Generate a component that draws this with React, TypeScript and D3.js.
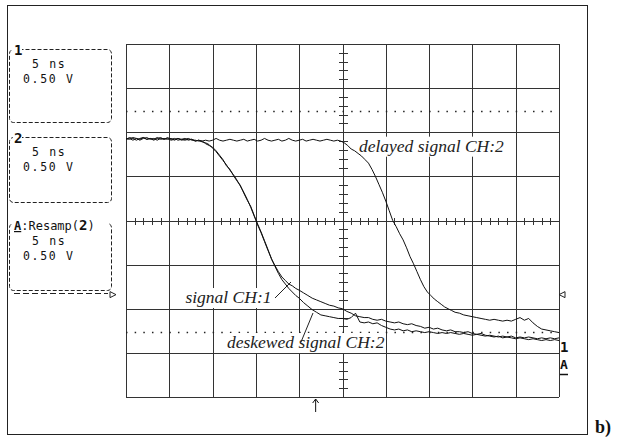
import React, { useLayoutEffect, useRef, useState } from 'react';
import * as d3 from 'd3';

// time in ns (5 ns/div), voltage in V (0.5 V/div)
const signalCh1: [number, number][] = [
  [0,0.93],[0.4,0.92],[0.8,0.94],[1.2,0.93],[1.6,0.91],[2.0,0.93],[2.4,0.94],[2.8,0.92],[3.2,0.93],[3.6,0.91],[4.0,0.93],[4.4,0.92],[4.8,0.94],[5.2,0.92],[5.6,0.93],[6.0,0.91],[6.4,0.92],[6.8,0.93],[7.2,0.91],[7.6,0.92],[8.0,0.90],[8.4,0.91],[8.8,0.89],[9.2,0.88],[9.6,0.86],[10.0,0.82],[10.4,0.78],[10.8,0.73],[11.2,0.68],[11.6,0.63],[12.0,0.57],[12.4,0.52],[12.8,0.46],[13.2,0.39],[13.6,0.32],[14.0,0.24],[14.4,0.15],[14.8,0.05],[15.2,-0.04],[15.6,-0.13],[16.0,-0.23],[16.4,-0.33],[16.8,-0.44],[17.2,-0.51],[17.6,-0.58],[18.0,-0.64],[18.4,-0.68],[18.8,-0.72],[19.2,-0.74],[19.6,-0.77],[20.0,-0.79],[20.5,-0.82],[21.0,-0.85],[21.5,-0.88],[22.0,-0.90],[22.5,-0.92],[23.0,-0.94],[23.5,-0.96],[24.0,-0.97],[24.5,-0.99],[25.0,-1.00],[25.5,-1.03],[26.0,-1.05],[26.5,-1.08],[27.0,-1.09],[27.5,-1.10],[28.0,-1.10],[28.5,-1.12],[29.0,-1.13],[29.5,-1.12],[30.0,-1.14],[30.5,-1.15],[31.0,-1.16],[31.5,-1.15],[32.0,-1.17],[32.5,-1.18],[33.0,-1.17],[33.5,-1.19],[34.0,-1.20],[34.5,-1.22],[35.0,-1.21],[35.5,-1.23],[36.0,-1.22],[36.5,-1.24],[37.0,-1.25],[37.5,-1.24],[38.0,-1.26],[38.5,-1.26],[39.0,-1.27],[39.5,-1.26],[40.0,-1.28],[40.5,-1.29],[41.0,-1.28],[41.5,-1.30],[42.0,-1.31],[42.5,-1.32],[43.0,-1.31],[43.5,-1.33],[44.0,-1.32],[44.5,-1.33],[45.0,-1.34],[45.5,-1.33],[46.0,-1.34],[46.5,-1.35],[47.0,-1.34],[47.5,-1.35],[48.0,-1.36],[48.5,-1.35],[49.0,-1.36],[49.5,-1.35],[50.0,-1.36]
];

const deskewedCh2: [number, number][] = [
  [0,0.92],[0.4,0.94],[0.8,0.93],[1.2,0.91],[1.6,0.93],[2.0,0.94],[2.4,0.92],[2.8,0.93],[3.2,0.91],[3.6,0.93],[4.0,0.94],[4.4,0.92],[4.8,0.93],[5.2,0.91],[5.6,0.92],[6.0,0.93],[6.4,0.91],[6.8,0.92],[7.2,0.93],[7.6,0.91],[8.0,0.91],[8.4,0.90],[8.8,0.90],[9.2,0.87],[9.6,0.85],[10.0,0.83],[10.4,0.79],[10.8,0.74],[11.2,0.69],[11.6,0.62],[12.0,0.58],[12.4,0.51],[12.8,0.45],[13.2,0.40],[13.6,0.31],[14.0,0.23],[14.4,0.16],[14.8,0.06],[15.2,-0.05],[15.6,-0.14],[16.0,-0.24],[16.4,-0.34],[16.8,-0.43],[17.2,-0.52],[17.6,-0.60],[18.0,-0.67],[18.4,-0.72],[18.8,-0.77],[19.2,-0.81],[19.6,-0.85],[20.0,-0.88],[20.5,-0.93],[21.0,-0.97],[21.5,-1.01],[22.0,-1.04],[22.5,-1.07],[23.0,-1.08],[23.5,-1.09],[24.0,-1.10],[24.5,-1.11],[25.0,-1.11],[25.5,-1.12],[26.0,-1.10],[26.5,-1.05],[27.0,-1.15],[27.5,-1.16],[28.0,-1.15],[28.5,-1.17],[29.0,-1.16],[29.5,-1.19],[30.0,-1.21],[30.5,-1.23],[31.0,-1.24],[31.5,-1.23],[32.0,-1.25],[32.5,-1.24],[33.0,-1.26],[33.5,-1.25],[34.0,-1.26],[34.5,-1.27],[35.0,-1.26],[35.5,-1.27],[36.0,-1.28],[36.5,-1.27],[37.0,-1.28],[37.5,-1.27],[38.0,-1.28],[38.5,-1.29],[39.0,-1.28],[39.5,-1.29],[40.0,-1.30],[40.5,-1.29],[41.0,-1.30],[41.5,-1.31],[42.0,-1.30],[42.5,-1.31],[43.0,-1.32],[43.5,-1.31],[44.0,-1.32],[44.5,-1.31],[45.0,-1.33],[45.5,-1.32],[46.0,-1.33],[46.5,-1.32],[47.0,-1.33],[47.5,-1.34],[48.0,-1.33],[48.5,-1.34],[49.0,-1.33],[49.5,-1.34],[50.0,-1.33]
];

const delayedCh2: [number, number][] = [
  [0,0.92],[0.4,0.93],[0.8,0.91],[1.2,0.93],[1.6,0.92],[2.0,0.94],[2.4,0.92],[2.8,0.93],[3.2,0.92],[3.6,0.94],[4.0,0.92],[4.4,0.93],[4.8,0.92],[5.2,0.93],[5.6,0.91],[6.0,0.93],[6.4,0.92],[6.8,0.91],[7.2,0.92],[7.6,0.92],[8.0,0.90],[8.4,0.91],[8.8,0.90],[9.2,0.91],[9.6,0.90],[10.0,0.91],[10.4,0.93],[10.8,0.91],[11.2,0.90],[11.6,0.91],[12.0,0.92],[12.4,0.91],[12.8,0.90],[13.2,0.91],[13.6,0.92],[14.0,0.90],[14.4,0.91],[14.8,0.92],[15.2,0.90],[15.6,0.91],[16.0,0.93],[16.4,0.91],[16.8,0.90],[17.2,0.91],[17.6,0.92],[18.0,0.90],[18.4,0.91],[18.8,0.93],[19.2,0.91],[19.6,0.90],[20.0,0.91],[20.4,0.92],[20.8,0.90],[21.2,0.91],[21.6,0.92],[22.0,0.91],[22.4,0.90],[22.8,0.91],[23.2,0.92],[23.6,0.91],[24.0,0.90],[24.4,0.91],[24.8,0.90],[25.2,0.88],[25.6,0.85],[26.0,0.81],[26.4,0.79],[26.8,0.76],[27.2,0.73],[27.6,0.69],[28.0,0.65],[28.4,0.58],[28.8,0.50],[29.2,0.41],[29.6,0.32],[30.0,0.22],[30.4,0.11],[30.8,0.00],[31.2,-0.07],[31.6,-0.15],[32.0,-0.22],[32.4,-0.31],[32.8,-0.41],[33.2,-0.49],[33.6,-0.58],[34.0,-0.67],[34.4,-0.75],[34.8,-0.81],[35.2,-0.85],[35.6,-0.89],[36.0,-0.92],[36.4,-0.95],[36.8,-0.98],[37.2,-1.00],[37.6,-1.02],[38.0,-1.04],[38.5,-1.05],[39.0,-1.07],[39.5,-1.08],[40.0,-1.09],[40.5,-1.10],[41.0,-1.11],[41.5,-1.12],[42.0,-1.13],[42.5,-1.12],[43.0,-1.13],[43.5,-1.14],[44.0,-1.13],[44.5,-1.14],[45.0,-1.12],[45.5,-1.10],[46.0,-1.13],[46.5,-1.11],[47.0,-1.16],[47.5,-1.20],[48.0,-1.23],[48.5,-1.24],[49.0,-1.25],[49.5,-1.26],[50.0,-1.27]
];

const cursorLevels = [1.24, -1.26];
const channelBoxes = [
  { head: '1', time: '5 ns', volts: '0.50 V' },
  { head: '2', time: '5 ns', volts: '0.50 V' },
  { head: 'A:Resamp(2)', time: '5 ns', volts: '0.50 V' },
];

const X0 = 126, X1 = 559, Y0 = 44, Y1 = 397;
const x = d3.scaleLinear().domain([0, 50]).range([X0, X1]);
const y = d3.scaleLinear().domain([-2, 2]).range([Y1, Y0]);
const line = d3.line<[number, number]>().x(d => x(d[0])).y(d => y(d[1]));

function Label({ tx, ty, text, anchor = 'start' }: { tx: number; ty: number; text: string; anchor?: string }) {
  const ref = useRef<SVGTextElement>(null);
  const [bb, setBb] = useState<{ x: number; y: number; w: number; h: number } | null>(null);
  useLayoutEffect(() => {
    if (ref.current) {
      const b = ref.current.getBBox();
      setBb({ x: b.x, y: b.y, w: b.width, h: b.height });
    }
  }, []);
  return (
    <g>
      {bb && <rect x={bb.x - 1} y={bb.y + 1} width={bb.w + 2} height={bb.h} fill="#fff" />}
      <text ref={ref} x={tx} y={ty} textAnchor={anchor as any} fontFamily="'Liberation Serif', 'Times New Roman', serif" fontStyle="italic" fontSize={17.5} fill="#222">{text}</text>
    </g>
  );
}

export default function App() {
  const grid = '#333';
  const mono = "'DejaVu Sans Mono', monospace";
  const boxTops = [49, 137, 223];
  const boxBottoms = [122, 202, 290];
  const arrowX = x(21.9);
  return (
    <svg width={621} height={439} style={{ position: 'absolute', left: 0, top: 0, background: '#fff' }}>
      <rect x={0} y={0} width={621} height={439} fill="#fff" />
      <rect x={7.5} y={5.5} width={580} height={429} fill="none" stroke="#222" strokeWidth={1} />
      {/* grid */}
      <g shapeRendering="crispEdges" stroke={grid} strokeWidth={1}>
        {d3.range(0, 50.001, 5).map(t => (
          <line key={'v' + t} x1={Math.round(x(t)) + 0.5} x2={Math.round(x(t)) + 0.5} y1={Y0} y2={Y1} />
        ))}
        {d3.range(-2, 2.001, 0.5).map(v => (
          <line key={'h' + v} x1={X0} x2={X1} y1={Math.round(y(v)) + 0.5} y2={Math.round(y(v)) + 0.5} />
        ))}
        {d3.range(0, 50.001, 1).map(t => (
          <line key={'mt' + t} x1={Math.round(x(t)) + 0.5} x2={Math.round(x(t)) + 0.5} y1={Math.round(y(0)) - 3} y2={Math.round(y(0)) + 4} />
        ))}
        {d3.range(-2, 2.001, 0.1).map(v => (
          <line key={'mv' + v} x1={Math.round(x(25)) - 4} x2={Math.round(x(25)) + 5} y1={Math.round(y(v)) + 0.5} y2={Math.round(y(v)) + 0.5} />
        ))}
      </g>
      {cursorLevels.map(v => (
        <line key={'c' + v} x1={X0} x2={X1} y1={Math.round(y(v)) + 0.5} y2={Math.round(y(v)) + 0.5}
          stroke="#222" strokeWidth={1.5} strokeDasharray="1.5 7.16" />
      ))}
      {/* labels with white background */}
      <Label tx={x(26.9)} ty={y(0.78)} text="delayed signal CH:2" />
      <Label tx={x(16.8)} ty={y(-0.935)} text="signal CH:1" anchor="end" />
      <Label tx={x(11.66)} ty={y(-1.445)} text="deskewed signal CH:2" />
      {/* leaders */}
      <line x1={275} y1={298} x2={291} y2={282} stroke="#222" strokeWidth={1} />
      <line x1={301} y1={342} x2={313} y2={313} stroke="#222" strokeWidth={1} />
      {/* traces */}
      {[delayedCh2, deskewedCh2, signalCh1].map((s, i) => (
        <path key={i} d={line(s) || ''} fill="none" stroke="#111" strokeWidth={1} strokeLinejoin="round" />
      ))}
      {/* channel boxes */}
      {channelBoxes.map((b, i) => {
        const top = boxTops[i], bot = boxBottoms[i];
        return (
          <g key={i}>
            <rect x={9.5} y={top + 0.5} width={102} height={bot - top} rx={4} fill="none" stroke="#222" strokeWidth={1} strokeDasharray="4 2" />
            {i === 2 && <line x1={14} x2={108} y1={bot + 3.5} y2={bot + 3.5} stroke="#222" strokeWidth={1} strokeDasharray="6 3" />}
            {i < 2 ? (
              <g>
                <rect x={13} y={top - 5} width={9} height={10} fill="#fff" />
                <text x={14} y={top + 6} fontFamily={mono} fontWeight="bold" fontSize={14} fill="#111">{b.head}</text>
              </g>
            ) : (
              <g>
                <rect x={13} y={top - 5} width={95} height={12} fill="#fff" />
                <text x={14} y={top + 7} fontFamily={mono} fontSize={12} fill="#111">
                  <tspan fontWeight="bold" textDecoration="underline">A</tspan>
                  <tspan>:Resamp(</tspan>
                  <tspan fontWeight="bold" fontSize={14}>2</tspan>
                  <tspan>)</tspan>
                </text>
              </g>
            )}
            <text x={32} y={top + (i === 2 ? 22 : 19)} fontFamily={mono} fontSize={11.5} letterSpacing={1.7} fill="#111">{b.time}</text>
            <text x={23} y={top + (i === 2 ? 37 : 34)} fontFamily={mono} fontSize={11.5} letterSpacing={1.7} fill="#111">{b.volts}</text>
          </g>
        );
      })}
      {/* markers */}
      <path d={`M110,${y(-0.84) - 3} L116,${y(-0.84)} L110,${y(-0.84) + 3} Z`} fill="none" stroke="#222" strokeWidth={1} />
      <path d={`M565,${y(-0.84) - 3} L559,${y(-0.84)} L565,${y(-0.84) + 3} Z`} fill="none" stroke="#222" strokeWidth={1} />
      <text x={560} y={352} fontFamily={mono} fontWeight="bold" fontSize={14} fill="#111">1</text>
      <text x={560} y={369} fontFamily={mono} fontWeight="bold" fontSize={13} fill="#111">A</text>
      <line x1={560} x2={568} y1={374.5} y2={374.5} stroke="#111" strokeWidth={1.5} />
      <path d={`M${arrowX},412 L${arrowX},399 M${arrowX - 3},403 L${arrowX},399 L${arrowX + 3},403`} fill="none" stroke="#111" strokeWidth={1} />
      <text x={595} y={433} fontFamily="'Liberation Serif', 'Times New Roman', serif" fontWeight="bold" fontSize={18} fill="#111">b)</text>
    </svg>
  );
}
